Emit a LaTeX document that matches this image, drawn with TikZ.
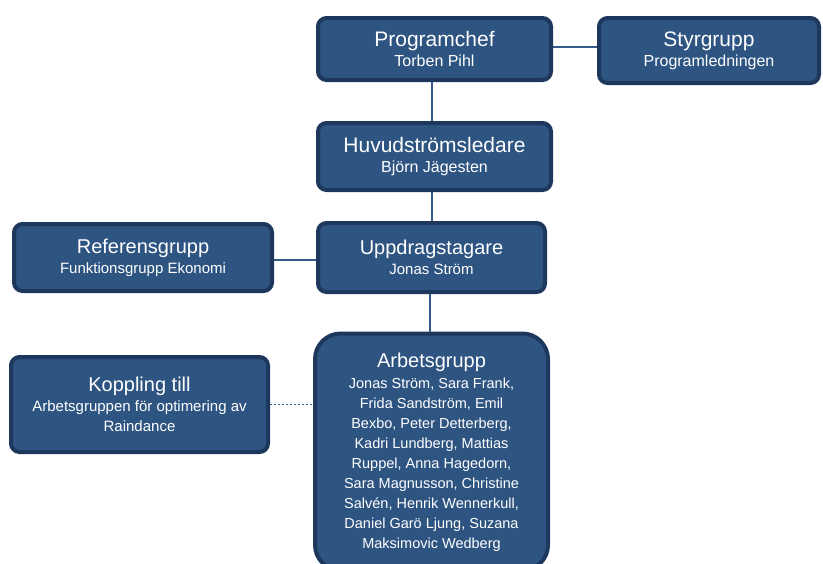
\documentclass[tikz,border=0pt]{standalone}
\usepackage{fontspec}
\setmainfont{Liberation Sans}
\usepackage{tikz}
\usetikzlibrary{positioning}
\definecolor{OrgFill}{RGB}{46, 84, 130}
\definecolor{OrgEdge}{RGB}{30, 55, 92}
\definecolor{OrgLine}{RGB}{52, 90, 140}

\newcommand{\rubrik}[1]{{\fontsize{20}{22}\selectfont #1}}
\newcommand{\namn}[1]{{\fontsize{15}{20}\selectfont #1}}
\newcommand{\storrubrik}[1]{{\fontsize{21}{22}\selectfont #1}}
\newcommand{\stornamn}[1]{{\fontsize{16}{20}\selectfont #1}}

\begin{document}
\begin{tikzpicture}[x=1pt, y=-1pt, font=\fontsize{15}{20}\selectfont]
    \tikzstyle{block} = [rectangle, draw=OrgEdge, fill=OrgFill, text=white, align=center, rounded corners=3mm, line width=4pt, inner sep=0pt]
    \tikzstyle{line} = [OrgLine, line width=1.5pt]

    \useasboundingbox (0,0) rectangle (823,563);

    \node [block, minimum width=233, minimum height=62] (prog) at (434.5,49) {\storrubrik{Programchef}\\\stornamn{Torben Pihl}};
    \node [block, minimum width=220, minimum height=65] (styr) at (709,50.5) {\storrubrik{Styrgrupp}\\\stornamn{Programledningen}};
    \node [block, minimum width=233, minimum height=67] (huvud) at (434.5,156.5) {\storrubrik{Huvudströmsledare}\\\stornamn{Björn Jägesten}};
    \node [block, minimum width=227, minimum height=69] (uppdrag) at (431.5,257.5) {\rubrik{Uppdragstagare}\\\namn{Jonas Ström}};
    \node [block, minimum width=258, minimum height=67] (ref) at (143,257.5) {\rubrik{Referensgrupp}\\\namn{Funktionsgrupp Ekonomi}};
    \node [block, minimum width=257, minimum height=95] (koppling) at (139.5,404.5) {\rubrik{Koppling till}\\\namn{Arbetsgruppen för optimering av}\\\namn{Raindance}};
    \node [block, rounded corners=9mm, minimum width=233, minimum height=237, font=\fontsize{14.5}{20}\selectfont] (arbete) at (431.5,452)
        {\rubrik{Arbetsgrupp}\\[1pt]
         Jonas Ström, Sara Frank,\\
         Frida Sandström, Emil\\
         Bexbo, Peter Detterberg,\\
         Kadri Lundberg, Mattias\\
         Ruppel, Anna Hagedorn,\\
         Sara Magnusson, Christine\\
         Salvén, Henrik Wennerkull,\\
         Daniel Garö Ljung, Suzana\\
         Maksimovic Wedberg};

    \draw [line] (prog.east |- 0,47) -- (styr.west |- 0,47);
    \draw [line] (prog.south -| 432,0) -- (huvud.north -| 432,0);
    \draw [line] (huvud.south -| 432,0) -- (uppdrag.north -| 432,0);
    \draw [line] (ref.east |- 0,260) -- (uppdrag.west |- 0,260);
    \draw [line] (uppdrag.south -| 430,0) -- (arbete.north -| 430,0);
    \draw [line, line width=1.8pt, dash pattern=on 1.8pt off 2.2pt] (koppling.east) -- (koppling.east -| arbete.west);
\end{tikzpicture}
\end{document}
